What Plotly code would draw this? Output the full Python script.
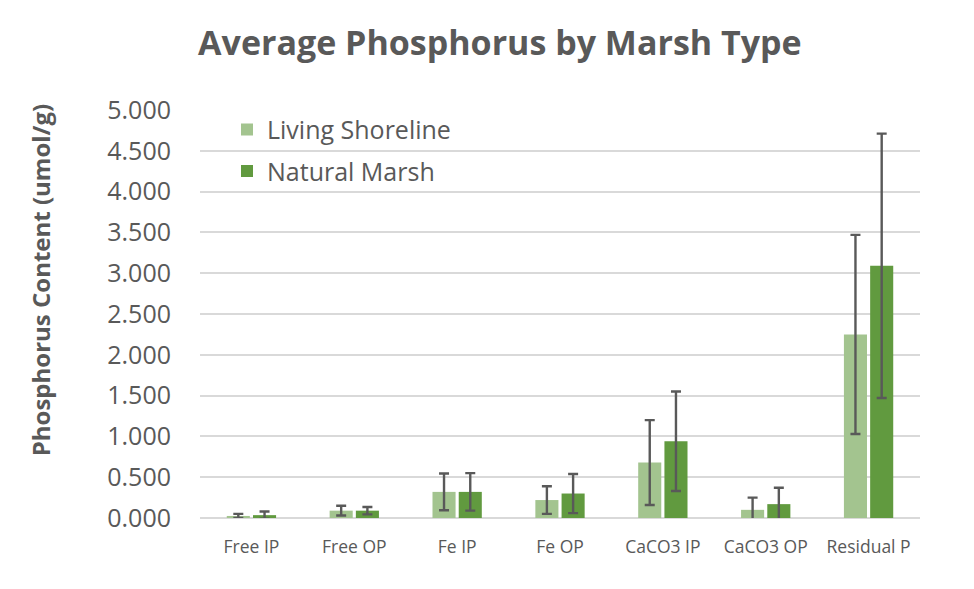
import plotly.graph_objects as go

categories = ["Free IP", "Free OP", "Fe IP", "Fe OP", "CaCO3 IP", "CaCO3 OP", "Residual P"]
living_shoreline = [0.025, 0.09, 0.32, 0.22, 0.68, 0.10, 2.25]
living_shoreline_err = [0.025, 0.06, 0.225, 0.17, 0.52, 0.15, 1.22]
natural_marsh = [0.035, 0.09, 0.32, 0.30, 0.94, 0.17, 3.09]
natural_marsh_err = [0.045, 0.045, 0.23, 0.24, 0.61, 0.20, 1.62]
y_ticks = [0, 0.5, 1, 1.5, 2, 2.5, 3, 3.5, 4, 4.5, 5]
y_tick_labels = ["0.000", "0.500", "1.000", "1.500", "2.000", "2.500", "3.000", "3.500", "4.000", "4.500", "5.000"]

FONT = "Open Sans"
GREY = "#595959"

fig = go.Figure()
fig.add_trace(go.Bar(
    x=categories, y=living_shoreline, name="Living Shoreline",
    marker=dict(color="#A3C48F", line=dict(width=0)),
    error_y=dict(type="data", array=living_shoreline_err, visible=True,
                 color=GREY, thickness=2.4, width=5),
    legendgroup="a",
))
fig.add_trace(go.Bar(
    x=categories, y=natural_marsh, name="Natural Marsh",
    marker=dict(color="#619A3F", line=dict(width=0)),
    error_y=dict(type="data", array=natural_marsh_err, visible=True,
                 color=GREY, thickness=2.4, width=5),
    legendgroup="b",
))

fig.add_annotation(
    text="<b>Phosphorus Content (umol/g)</b>", textangle=-90,
    xref="paper", yref="paper", x=-0.222, y=0.583,
    xanchor="center", yanchor="middle", showarrow=False,
    font=dict(family=FONT, size=24, color=GREY),
)

fig.update_layout(
    width=974, height=589,
    paper_bgcolor="white", plot_bgcolor="white",
    margin=dict(l=192, r=62, t=102, b=79),
    barmode="group", bargap=0.49, bargroupgap=0.12,
    title=dict(text="<b>Average Phosphorus by Marsh Type</b>", x=0.505, xanchor="center",
               y=0.94, yanchor="middle",
               font=dict(family=FONT, size=34, color=GREY)),
    font=dict(family=FONT, color=GREY),
    legend=dict(x=0.0375, y=1.008, xanchor="left", yanchor="top",
                font=dict(family=FONT, size=25, color=GREY),
                bgcolor="rgba(0,0,0,0)", traceorder="grouped", tracegroupgap=6),
    xaxis=dict(tickfont=dict(family=FONT, size=17.5, color=GREY), showgrid=False,
               showline=False, ticks="", ticklabelstandoff=16),
    yaxis=dict(range=[0, 5], tickvals=y_ticks, ticktext=y_tick_labels,
               tickfont=dict(family=FONT, size=25, color=GREY),
               gridcolor="#D9D9D9", gridwidth=1.5, zeroline=True,
               zerolinecolor="#D9D9D9", zerolinewidth=1.5,
               showline=False, ticks="", ticklabelstandoff=28),
)

fig.write_html("out.html")
